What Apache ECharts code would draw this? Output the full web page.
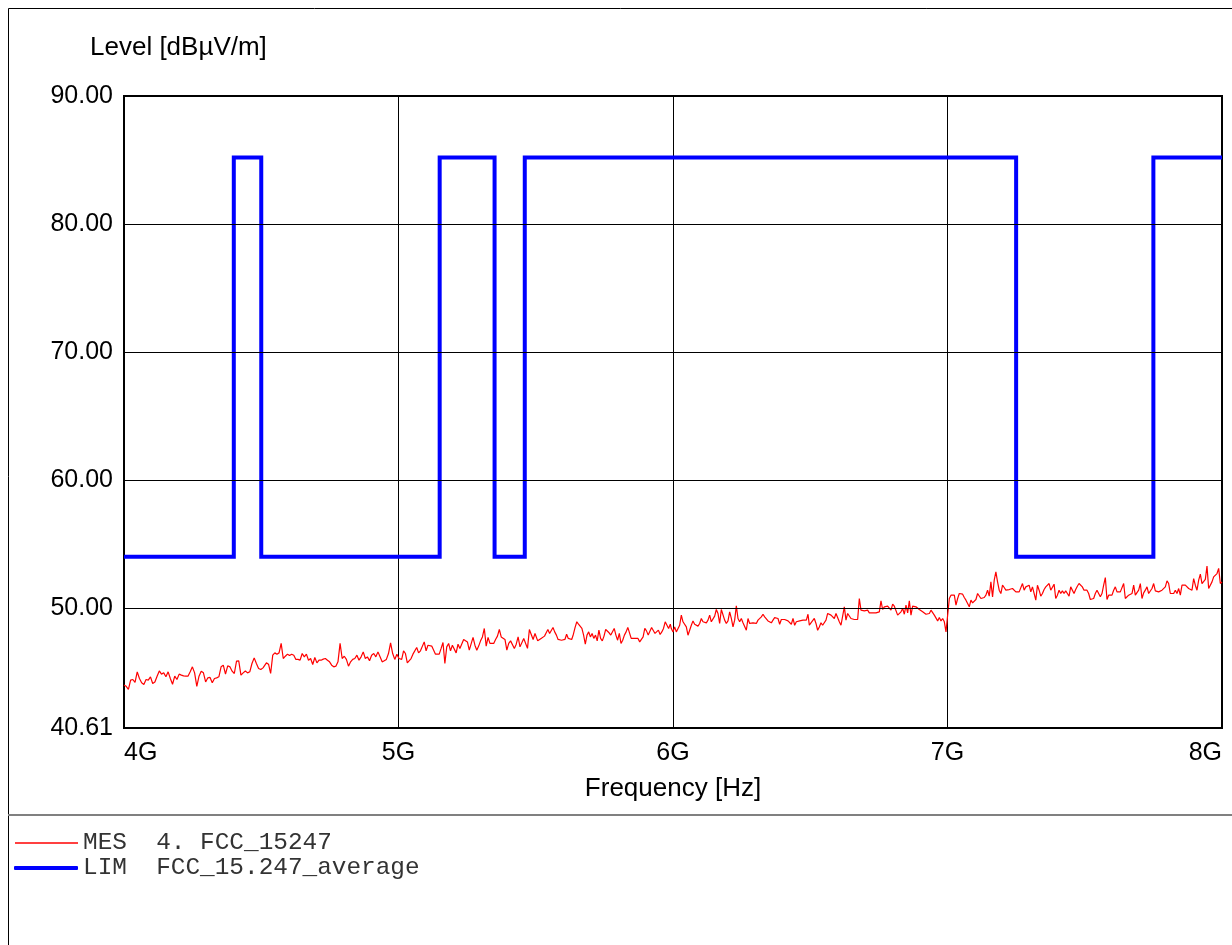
<!DOCTYPE html>
<html>
<head>
<meta charset="utf-8">
<script src="https://cdn.jsdelivr.net/npm/echarts@6.0.0/dist/echarts.min.js"></script>
<style>
  html, body { margin: 0; padding: 0; background: #fff; overflow: hidden; }
  #chart { width: 1232px; height: 945px; }
</style>
</head>
<body>
<div id="chart"></div>
<script>
// ---- Data (frequency in MHz, level in dBµV/m) ----
const xTickLabels = ['4G', '5G', '6G', '7G', '8G'];
const yTickValues = [40.61, 50, 60, 70, 80, 90];
const yGridValues = [50, 60, 70, 80];

// Limit line FCC_15.247_average (corner points)
const limFreq  = [4000, 4400, 4400, 4500, 4500, 5150, 5150, 5350, 5350, 5460, 5460, 7250, 7250, 7750, 7750, 8000];
const limLevel = [54, 54, 85.2, 85.2, 54, 54, 85.2, 85.2, 54, 54, 85.2, 85.2, 54, 54, 85.2, 85.2];

// Measurement sweep, read in eight frequency segments
const segStartMHz = [4000, 4511.2, 5011.6, 5500.9, 5993.9, 6496.6, 7000.6, 7502.1];
const segEndMHz   = [4506.4, 5001.8, 5497.3, 5990.2, 6491.8, 6994.5, 7497.3, 8000];

const mes1 = [43.96, 43.87, 43.62, 44.35, 44.40, 44.17, 45.00, 44.48, 44.14, 44.01, 44.40, 44.35, 44.61, 44.09, 44.21, 44.66, 45.07, 44.82, 44.92, 44.61, 45.00, 44.48, 44.03, 44.66, 44.40, 44.82, 44.74, 44.68, 44.66, 44.66, 45.00, 45.39, 44.92, 43.87, 44.66, 45.05, 44.92, 44.21, 44.53, 44.56, 44.14, 44.48, 44.53, 44.61, 45.39, 45.52, 44.82, 45.47, 45.39, 45.05, 44.87, 45.83, 45.86, 44.74, 44.92, 45.07, 44.92, 45.00, 45.65, 46.09, 45.65, 45.26, 45.18, 45.31];
const mes2 = [45.34, 45.70, 45.60, 44.87, 46.30, 46.48, 46.38, 46.48, 47.22, 46.04, 46.22, 46.38, 46.28, 46.38, 46.30, 45.97, 45.97, 45.91, 46.43, 46.17, 46.38, 45.91, 46.04, 45.57, 46.12, 45.70, 45.91, 45.91, 45.99, 46.04, 45.91, 45.78, 45.52, 45.39, 45.44, 45.78, 47.22, 46.04, 46.22, 45.97, 45.44, 45.78, 45.97, 46.04, 46.30, 45.91, 46.17, 46.56, 46.04, 46.17, 45.86, 46.30, 46.43, 46.17, 46.56, 46.17, 45.78, 45.86, 45.97, 46.43, 47.26, 46.43, 45.97, 46.38, 46.04];
const mes3 = [45.97, 46.64, 46.43, 45.70, 45.78, 46.04, 46.38, 46.43, 46.90, 46.48, 46.64, 46.56, 47.34, 46.64, 47.08, 47.22, 47.01, 46.95, 46.38, 46.30, 46.38, 46.83, 47.29, 45.65, 46.95, 47.22, 46.64, 47.08, 46.95, 46.48, 47.16, 46.83, 46.83, 47.53, 47.47, 47.34, 46.69, 46.69, 47.69, 47.08, 46.69, 47.01, 47.42, 47.73, 48.39, 47.01, 47.69, 47.22, 47.08, 47.22, 47.53, 47.79, 48.31, 47.73, 47.73, 47.53, 46.69, 47.22, 47.42, 47.53, 46.83, 47.16, 47.73, 46.95, 46.95, 47.61, 47.69, 46.83, 48.31, 48.26, 47.53, 48.00];
const mes4 = [48.12, 47.42, 47.47, 47.61, 47.73, 47.79, 48.05, 48.31, 48.00, 48.12, 48.47, 48.12, 47.87, 47.53, 47.61, 47.47, 47.34, 47.53, 47.94, 47.61, 47.47, 47.53, 47.94, 48.47, 48.91, 48.73, 48.78, 48.39, 47.87, 47.16, 47.87, 48.12, 47.73, 48.00, 47.61, 47.87, 47.42, 48.26, 47.61, 47.42, 47.79, 48.31, 48.20, 48.05, 47.87, 47.87, 48.39, 47.87, 47.47, 48.00, 47.22, 47.47, 47.87, 48.12, 48.47, 48.47, 47.61, 47.53, 47.61, 47.73, 47.61, 47.34, 47.47, 47.73, 48.39, 48.20, 47.87, 48.00, 48.47, 48.39, 48.00, 48.12, 48.26, 47.92, 48.12, 48.39, 48.91, 48.83, 48.39, 48.73];
const mes5 = [48.38, 48.12, 48.51, 48.12, 48.05, 48.64, 49.43, 48.91, 48.78, 48.51, 47.86, 48.25, 48.64, 48.98, 48.72, 48.64, 48.57, 48.78, 49.17, 48.91, 48.78, 48.83, 49.04, 49.43, 48.91, 49.04, 49.35, 49.87, 49.56, 48.78, 49.87, 49.95, 49.04, 48.78, 48.98, 49.69, 49.17, 48.51, 49.04, 50.16, 49.17, 48.91, 49.17, 48.83, 48.91, 48.25, 49.17, 48.78, 48.91, 48.83, 48.91, 48.78, 49.04, 49.17, 49.30, 49.50, 49.30, 49.17, 48.98, 48.91, 48.83, 49.04, 49.24, 49.35, 49.17, 48.72, 49.09, 49.17, 49.09, 49.17, 48.98, 49.09, 48.72, 49.17, 48.64, 48.91, 48.83, 48.98, 49.04, 49.04, 49.09, 49.04, 49.50];
const mes6 = [48.64, 48.83, 48.91, 49.17, 48.78, 48.25, 48.51, 48.83, 48.64, 48.78, 49.04, 49.56, 49.56, 49.43, 49.35, 49.17, 49.56, 49.61, 48.91, 48.64, 49.35, 50.08, 49.04, 49.56, 49.43, 49.17, 49.09, 49.09, 49.09, 49.09, 50.73, 49.82, 49.77, 49.77, 49.69, 49.82, 49.61, 49.69, 49.61, 49.69, 49.61, 49.61, 49.69, 50.55, 49.87, 50.08, 49.95, 50.13, 50.08, 49.82, 50.29, 50.13, 50.21, 49.43, 49.56, 49.69, 49.95, 49.50, 50.21, 49.61, 50.55, 49.43, 50.13, 50.08, 50.08, 50.13, 49.87, 49.77, 49.69, 49.61, 49.50, 49.35, 49.56, 49.82, 49.69, 49.43, 49.30, 48.98, 49.24, 48.98, 49.17, 48.91, 48.12];
const mes7 = [48.05, 50.73, 50.99, 51.12, 50.99, 50.21, 50.73, 51.12, 51.17, 51.07, 50.81, 50.60, 50.47, 50.08, 50.60, 50.39, 50.47, 50.65, 51.12, 51.17, 50.73, 50.86, 50.81, 50.99, 51.38, 50.91, 52.03, 50.86, 52.16, 52.81, 52.03, 51.38, 51.12, 51.77, 51.59, 51.38, 51.51, 51.43, 51.43, 51.51, 51.59, 51.25, 51.25, 51.25, 51.38, 51.90, 51.38, 51.64, 51.51, 51.77, 51.25, 51.64, 51.64, 50.60, 51.77, 51.38, 50.91, 51.12, 51.43, 51.64, 51.77, 51.90, 51.38, 51.51, 51.85, 50.73, 50.99, 51.38, 51.12, 51.33, 51.12, 51.33, 51.12, 50.91, 51.64, 51.77, 51.12, 51.43, 51.69, 51.90, 52.03, 51.64, 51.38];
const mes8 = [51.38, 51.38, 51.12, 50.65, 50.55, 50.73, 51.12, 51.38, 51.38, 50.86, 51.12, 51.77, 52.37, 50.65, 50.99, 50.91, 50.99, 51.38, 51.64, 51.25, 51.17, 51.25, 51.38, 51.90, 50.73, 50.60, 50.99, 51.12, 51.12, 51.77, 50.99, 50.86, 51.38, 51.90, 50.73, 51.17, 51.38, 51.64, 51.12, 51.25, 51.51, 51.90, 51.33, 51.33, 51.25, 51.12, 51.38, 51.43, 51.64, 52.11, 51.90, 51.12, 51.25, 51.12, 51.38, 51.12, 51.51, 50.99, 51.77, 51.90, 51.77, 51.64, 51.51, 51.43, 51.38, 52.29, 51.77, 51.38, 52.16, 52.63, 51.90, 51.77, 52.22, 53.26, 51.51, 51.64, 52.03, 52.42, 52.48, 52.68, 53.08, 51.90, 52.03];

const mesSegments = [mes1, mes2, mes3, mes4, mes5, mes6, mes7, mes8];

// ---- Build series data ----
const mesData = [];
mesSegments.forEach((vals, s) => {
  const f0 = segStartMHz[s], f1 = segEndMHz[s];
  vals.forEach((v, i) => {
    mesData.push([f0 + (f1 - f0) * i / (vals.length - 1), v]);
  });
});
const limData = limFreq.map((f, i) => [f, limLevel[i]]);

const MES_NAME = 'MES  4. FCC_15247';
const LIM_NAME = 'LIM  FCC_15.247_average';

const sansFont = '"Liberation Sans", Arial, "Helvetica", sans-serif';
const monoFont = '"Courier New", "Liberation Mono", monospace';
const legendText = { fontFamily: monoFont, fontSize: 24.4, color: '#333', lineHeight: 24 };

const chart = echarts.init(document.getElementById('chart'), null, { renderer: 'canvas' });
chart.setOption({
  animation: false,
  backgroundColor: '#ffffff',
  title: {
    text: 'Level [dBµV/m]',
    left: 90,
    top: 35,
    padding: 0,
    textStyle: { fontFamily: sansFont, fontSize: 26, fontWeight: 'normal', color: '#000' }
  },
  grid: {
    left: 124, right: 10, top: 96, bottom: 217,
    show: true, borderColor: '#000', borderWidth: 2, backgroundColor: 'transparent'
  },
  legend: [
    {
      orient: 'vertical', left: 15, top: 831, padding: 0,
      itemWidth: 63, itemHeight: 1.5, icon: 'rect',
      selectedMode: false, textStyle: legendText,
      data: [MES_NAME]
    },
    {
      orient: 'vertical', left: 14, top: 856, padding: 0,
      itemWidth: 64, itemHeight: 4, icon: 'roundRect',
      selectedMode: false, textStyle: legendText,
      data: [LIM_NAME]
    }
  ],
  xAxis: {
    type: 'value',
    min: 4000,
    max: 8000,
    interval: 1000,
    name: 'Frequency [Hz]',
    nameLocation: 'middle',
    nameGap: 48,
    nameTextStyle: { fontFamily: sansFont, fontSize: 26, color: '#000' },
    axisLine: { show: false },
    axisTick: { show: false },
    splitLine: { show: true, lineStyle: { color: '#000', width: 1 } },
    axisLabel: {
      margin: 13,
      fontFamily: sansFont, fontSize: 25, color: '#000',
      alignMinLabel: 'left', alignMaxLabel: 'right',
      formatter: v => xTickLabels[Math.round((v - 4000) / 1000)]
    }
  },
  yAxis: {
    type: 'value',
    min: 40.61,
    max: 90,
    axisLine: { show: false },
    axisTick: { show: false },
    splitLine: { show: false },
    axisLabel: {
      customValues: yTickValues,
      margin: 11,
      fontFamily: sansFont, fontSize: 25, color: '#000',
      formatter: v => Number(v).toFixed(2)
    }
  },
  graphic: [
    {
      type: 'polyline', silent: true, z: 100,
      shape: { points: [[8.5, 945], [8.5, 8.5], [1232, 8.5]] },
      style: { stroke: '#000', lineWidth: 1, fill: null }
    },
    {
      type: 'line', silent: true, z: 100,
      shape: { x1: 8, y1: 815, x2: 1232, y2: 815 },
      style: { stroke: '#808080', lineWidth: 2 }
    }
  ],
  series: [
    {
      name: 'gridlines',
      type: 'line',
      data: [],
      z: 1,
      silent: true,
      markLine: {
        silent: true,
        symbol: 'none',
        label: { show: false },
        lineStyle: { color: '#000', width: 1, type: 'solid' },
        emphasis: { disabled: true },
        data: yGridValues.map(v => ({ yAxis: v }))
      }
    },
    {
      name: MES_NAME,
      type: 'line',
      data: mesData,
      symbol: 'none',
      z: 3,
      lineStyle: { color: '#ff0000', width: 1.2 },
      itemStyle: { color: '#ff0000' }
    },
    {
      name: LIM_NAME,
      type: 'line',
      data: limData,
      symbol: 'none',
      z: 4,
      lineStyle: { color: '#0000ff', width: 4, join: 'miter', cap: 'butt' },
      itemStyle: { color: '#0000ff' }
    }
  ]
});
</script>
</body>
</html>
